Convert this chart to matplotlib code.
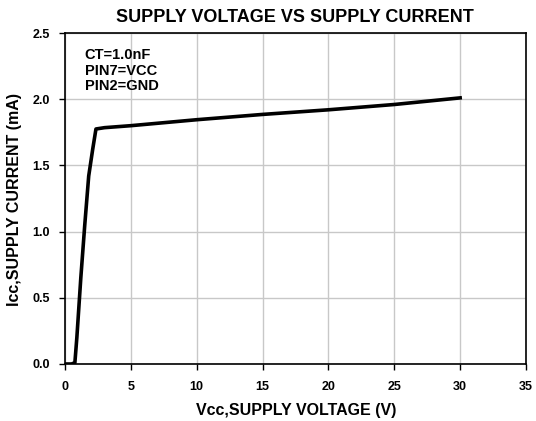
import matplotlib
matplotlib.use('Agg')
import matplotlib.pyplot as plt

# data
vcc = [0, 0.5, 0.75, 0.9, 1.2, 1.5, 1.8, 2.1, 2.35, 3, 5, 10, 15, 20, 25, 30]
icc = [0, 0, 0.01, 0.2, 0.65, 1.05, 1.42, 1.62, 1.775, 1.785, 1.80, 1.845, 1.885, 1.92, 1.96, 2.01]

xticks = [0, 5, 10, 15, 20, 25, 30, 35]
yticks = [0.0, 0.5, 1.0, 1.5, 2.0, 2.5]
notes = ['CT=1.0nF', 'PIN7=VCC', 'PIN2=GND']

plt.rcParams['font.family'] = ['Liberation Sans', 'DejaVu Sans']
plt.rcParams['font.weight'] = 'bold'

fig = plt.figure(figsize=(5.36, 4.21), dpi=100)
ax = fig.add_axes([65 / 536, 1 - 364 / 421, (526 - 65) / 536, (364 - 33) / 421])

ax.plot(vcc, icc, color='black', lw=2.6, solid_joinstyle='round')

ax.set_xlim(0, 35)
ax.set_ylim(0, 2.5)
ax.set_xticks(xticks)
ax.set_yticks(yticks)
ax.set_yticklabels([f'{v:.1f}' for v in yticks])
ax.tick_params(direction='out', length=4, width=1, labelsize=9)
ax.tick_params(axis='x', pad=8)
ax.tick_params(axis='y', pad=7)
ax.grid(True, color='#c8c8c8', lw=1)
ax.set_axisbelow(True)
for s in ax.spines.values():
    s.set_color('black')
    s.set_linewidth(1.2)

fig.text(295 / 536, 1 - 18 / 421, 'SUPPLY VOLTAGE VS SUPPLY CURRENT', fontsize=13,
         fontweight='bold', ha='center', va='center')
fig.text(296 / 536, 1 - 410 / 421, 'Vcc,SUPPLY VOLTAGE (V)', fontsize=11.5,
         fontweight='bold', ha='center', va='center')
fig.text(15 / 536, 1 - 200 / 421, 'Icc,SUPPLY CURRENT (mA)', fontsize=11.5,
         fontweight='bold', ha='center', va='center', rotation=90)

ax.text(0.043, 0.955, '\n'.join(notes), transform=ax.transAxes, fontsize=10.5,
        fontweight='bold', va='top', ha='left', linespacing=1.15)

fig.savefig('out.png', dpi=100)
